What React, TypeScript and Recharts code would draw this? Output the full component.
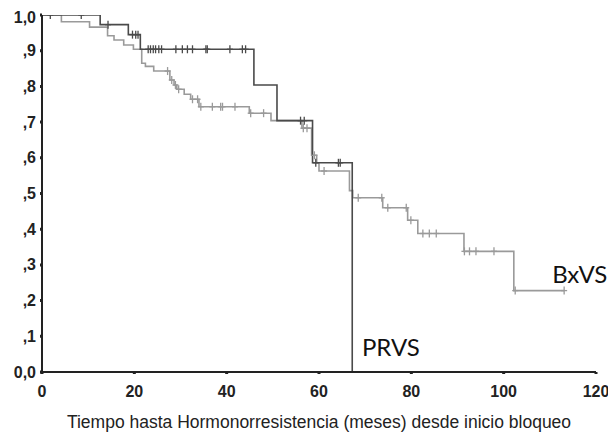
import React from 'react';
import { ComposedChart, Line, Scatter, XAxis, YAxis, ReferenceDot } from 'recharts';

// PRVS (dark curve)
const prvsTimes = [0, 12.6, 18.7, 21.3, 45.9, 50.9, 58.6, 67.2];
const prvsSurv = [1, 0.973, 0.945, 0.904, 0.804, 0.704, 0.586, 0];
const prvsCensorTimes = [1.8, 8.5, 14.3, 19.6, 20.3, 20.8, 23.0, 23.5, 24.1, 24.6, 25.3, 25.9, 29.0, 30.4, 31.5, 32.6, 35.5, 35.8, 40.7, 43.4, 44.1, 56.0, 56.8, 59.3, 64.2, 64.6];

// BxVS (light curve)
const bxvsTimes = [0, 4.2, 10.3, 14.2, 15.6, 17.7, 19.8, 21.6, 22.4, 24.2, 27.7, 28.6, 29.2, 30.8, 32.2, 34.0, 44.9, 49.6, 56.3, 58.4, 59.5, 60.0, 66.6, 67.3, 73.8, 79.2, 81.4, 91.4, 102.2, 113.1];
const bxvsSurv = [1, 0.981, 0.966, 0.942, 0.93, 0.916, 0.904, 0.865, 0.856, 0.843, 0.818, 0.804, 0.792, 0.778, 0.764, 0.743, 0.725, 0.704, 0.683, 0.607, 0.586, 0.563, 0.508, 0.488, 0.46, 0.425, 0.388, 0.338, 0.228, 0.228];
const bxvsCensorTimes = [27.2, 28.1, 28.9, 29.6, 32.6, 33.7, 34.4, 36.9, 38.7, 39.1, 41.8, 45.2, 48.0, 56.6, 57.4, 59.0, 61.1, 68.5, 73.6, 74.9, 78.9, 79.9, 82.5, 83.9, 85.4, 91.5, 92.6, 94.0, 97.9, 102.5, 113.1];

const xTicks = [0, 20, 40, 60, 80, 100, 120];
const yTicks = [0, 0.1, 0.2, 0.3, 0.4, 0.5, 0.6, 0.7, 0.8, 0.9, 1.0];
const yTickLabels = ['0,0', ',1', ',2', ',3', ',4', ',5', ',6', ',7', ',8', ',9', '1,0'];

const xTitle = 'Tiempo hasta Hormonorresistencia (meses) desde inicio bloqueo';

const DARK = '#4a4a4a';
const LIGHT = '#9a9a9a';

const curve = (times: number[], surv: number[]) => times.map((t, i) => ({ t, s: surv[i] }));
const stepAt = (times: number[], surv: number[], t: number) => {
  let v = surv[0];
  for (let i = 0; i < times.length; i++) if (times[i] <= t) v = surv[i];
  return v;
};
const censors = (ct: number[], times: number[], surv: number[]) => ct.map((t) => ({ t, s: stepAt(times, surv, t) }));

const prvsData = curve(prvsTimes, prvsSurv);
const bxvsData = curve(bxvsTimes, bxvsSurv);
const prvsCens = censors(prvsCensorTimes, prvsTimes, prvsSurv);
const bxvsCens = censors(bxvsCensorTimes, bxvsTimes, bxvsSurv);

const crossShape = (color: string) => (props: any) => {
  const { cx, cy } = props;
  if (cx == null || cy == null) return <g />;
  return (
    <g>
      <line x1={cx} x2={cx} y1={cy - 4} y2={cy + 4} stroke={color} strokeWidth={1.3} />
      <line x1={cx - 3} x2={cx + 3} y1={cy} y2={cy} stroke={color} strokeWidth={1.3} />
    </g>
  );
};

const textShape = (label: string) => (props: any) => {
  const { cx, cy } = props;
  return (
    <text x={cx} y={cy} fill="#111" fontFamily="Lato, 'Noto Sans', sans-serif" fontSize={24} textAnchor="start">
      {label}
    </text>
  );
};

const YTick = (props: any) => {
  const { x, y, payload } = props;
  const idx = yTicks.findIndex((v) => Math.abs(v - payload.value) < 1e-6);
  return (
    <text x={x} y={y} dy={5.5} textAnchor="end" fontFamily="'Liberation Sans', Arial, sans-serif" fontWeight="bold" fontSize={16} fill="#222">
      {yTickLabels[idx]}
    </text>
  );
};

const XTick = (props: any) => {
  const { x, y, payload } = props;
  return (
    <text x={x} y={y} dy={14} textAnchor="middle" fontFamily="'Liberation Sans', Arial, sans-serif" fontWeight="bold" fontSize={16} fill="#222">
      {payload.value}
    </text>
  );
};

export default function App() {
  return (
    <div style={{ width: 600, height: 429, background: '#fff' }}>
      <ComposedChart width={600} height={429} margin={{ top: 7, right: 12, bottom: 35, left: 0 }}>
        <XAxis
          type="number"
          dataKey="t"
          domain={[0, 120]}
          ticks={xTicks}
          allowDataOverflow
          axisLine={{ stroke: '#222', strokeWidth: 2 }}
          tickLine={{ stroke: '#222', strokeWidth: 3 }}
          tickSize={2}
          tickMargin={9}
          tick={<XTick />}
          height={30}
          label={{ value: xTitle, position: 'bottom', offset: 14, fontFamily: "'Liberation Sans', Arial, sans-serif", fontSize: 17.5, fill: '#222' }}
        />
        <YAxis
          type="number"
          dataKey="s"
          domain={[0, 1]}
          ticks={yTicks}
          allowDataOverflow
          width={34}
          axisLine={{ stroke: '#222', strokeWidth: 2 }}
          tickLine={{ stroke: '#222', strokeWidth: 3 }}
          tickSize={2}
          tickMargin={4}
          tick={<YTick />}
        />
        <Line data={bxvsData} dataKey="s" type="stepAfter" stroke={LIGHT} strokeWidth={1.6} dot={false} isAnimationActive={false} />
        <Line data={prvsData} dataKey="s" type="stepAfter" stroke={DARK} strokeWidth={1.6} dot={false} isAnimationActive={false} />
        <Scatter data={bxvsCens} dataKey="s" shape={crossShape(LIGHT)} isAnimationActive={false} />
        <Scatter data={prvsCens} dataKey="s" shape={crossShape(DARK)} isAnimationActive={false} />
        <ReferenceDot x={69.3} y={0.044} r={0} shape={textShape('PRVS')} />
        <ReferenceDot x={110.5} y={0.249} r={0} shape={textShape('BxVS')} />
      </ComposedChart>
    </div>
  );
}
